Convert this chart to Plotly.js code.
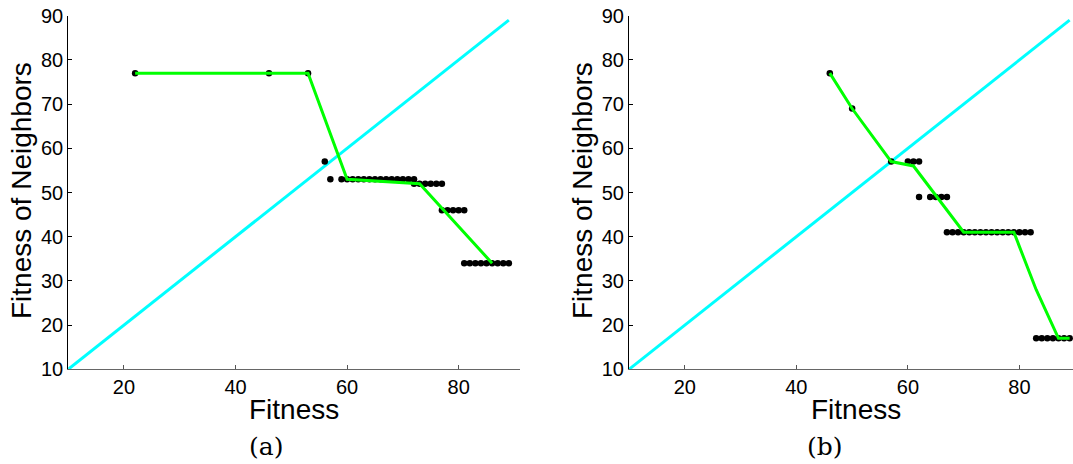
<!DOCTYPE html>
<html>
<head>
<meta charset="utf-8">
<script src="https://cdn.plot.ly/plotly-3.0.1.min.js"></script>
<style>
html,body{margin:0;padding:0;background:#fff;overflow:hidden;}
#chart{width:1073px;height:464px;}
</style>
</head>
<body>
<div id="chart"></div>
<script>
// ---- Data ----
// Panel (a): fitness vs fitness of neighbors (dots)
const fitA = [22,46,53,56,57,59,60,61,62,63,64,65,66,67,68,69,70,71,72,72,73,74,75,76,77,77,78,79,80,81,81,82,83,84,85,86,87,88,89];
const nbrA = [77,77,77,57,53,53,53,53,53,53,53,53,53,53,53,53,53,53,53,52,52,52,52,52,52,46,46,46,46,46,34,34,34,34,34,34,34,34,34];
// Panel (a): green trend line
const lineAx = [22,46,53,60,73,86];
const lineAy = [77,77,77,53,52,34];

// Panel (b)
const fitB = [46,50,57,60,61,62,62,64,65,66,67,67,68,69,70,71,72,73,74,75,76,77,78,79,80,81,82,83,84,85,86,87,88,89];
const nbrB = [77,69,57,57,57,57,49,49,49,49,49,41,41,41,41,41,41,41,41,41,41,41,41,41,41,41,41,17,17,17,17,17,17,17];
const lineBx = [46,50,57,61,70,79,83,87,89];
const lineBy = [77,69,57,56,41,41,28,17,17];

// Diagonal reference line
const diagX = [10,89];
const diagY = [10,89];

const xTicks = [20,40,60,80];
const yTicks = [10,20,30,40,50,60,70,80,90];
const panelLabels = ['(a)','(b)'];
const xTitle = 'Fitness';
const yTitle = 'Fitness of Neighbors';

// ---- Layout helpers ----
const W = 1073, H = 464;
const px = v => v / W;
const py = v => 1 - v / H;

const tickFont = {family:'Liberation Sans, Arial, sans-serif', size:20, color:'#000'};
const titleFont = {family:'Liberation Sans, Arial, sans-serif', size:28, color:'#000'};
const labFont = {family:'DejaVu Serif, Liberation Serif, serif', size:25, color:'#000'};

function mk(xa, ya, xs, ys, lx, ly) {
  return [
    {x:diagX, y:diagY, xaxis:xa, yaxis:ya, mode:'lines', line:{color:'#00ffff', width:3}, hoverinfo:'skip', showlegend:false},
    {x:xs, y:ys, xaxis:xa, yaxis:ya, mode:'markers', marker:{color:'#000', size:6.5}, showlegend:false},
    {x:lx, y:ly, xaxis:xa, yaxis:ya, mode:'lines', line:{color:'#00ff00', width:3}, showlegend:false}
  ];
}

const traces = [].concat(
  mk('x','y',fitA,nbrA,lineAx,lineAy),
  mk('x2','y2',fitB,nbrB,lineBx,lineBy)
);

const pxPerUnit = (520 - 68.2) / 81;
const yDom = [py(369.3), py(15.7)];

function xax(dom, r) {
  return {domain:dom, range:r, tickvals:xTicks, ticks:'inside', ticklen:4, tickcolor:'#555',
    showline:true, linecolor:'#666', linewidth:1, showgrid:false, zeroline:false,
    tickfont:tickFont, fixedrange:true};
}
function yax(anchor) {
  return {domain:yDom, range:[10,90], tickvals:yTicks, ticks:'inside', ticklen:4, tickcolor:'#000',
    showline:true, linecolor:'#000', linewidth:1, showgrid:false, zeroline:false,
    tickfont:tickFont, anchor:anchor, fixedrange:true};
}

const xEndB = 10 + (W - 629) / pxPerUnit;

const layout = {
  width:W, height:H,
  margin:{l:0,r:0,t:0,b:0},
  paper_bgcolor:'#fff', plot_bgcolor:'#fff',
  showlegend:false,
  xaxis: Object.assign(xax([px(68.2), px(520)], [10,91]), {anchor:'y'}),
  yaxis: yax('x'),
  xaxis2: Object.assign(xax([px(629), 1], [10, xEndB]), {anchor:'y2'}),
  yaxis2: yax('x2'),
  annotations: [
    {text:xTitle, xref:'paper', yref:'paper', x:px(294), y:py(409), showarrow:false, font:titleFont, xanchor:'center', yanchor:'middle'},
    {text:xTitle, xref:'paper', yref:'paper', x:px(856), y:py(409), showarrow:false, font:titleFont, xanchor:'center', yanchor:'middle'},
    {text:yTitle, xref:'paper', yref:'paper', x:px(21), y:py(191), showarrow:false, font:titleFont, textangle:-90, xanchor:'center', yanchor:'middle'},
    {text:yTitle, xref:'paper', yref:'paper', x:px(582), y:py(191), showarrow:false, font:titleFont, textangle:-90, xanchor:'center', yanchor:'middle'},
    {text:panelLabels[0], xref:'paper', yref:'paper', x:px(266), y:py(446), showarrow:false, font:labFont, xanchor:'center', yanchor:'middle'},
    {text:panelLabels[1], xref:'paper', yref:'paper', x:px(825), y:py(446), showarrow:false, font:labFont, xanchor:'center', yanchor:'middle'}
  ]
};

Plotly.newPlot('chart', traces, layout, {displayModeBar:false, staticPlot:true});
</script>
</body>
</html>
